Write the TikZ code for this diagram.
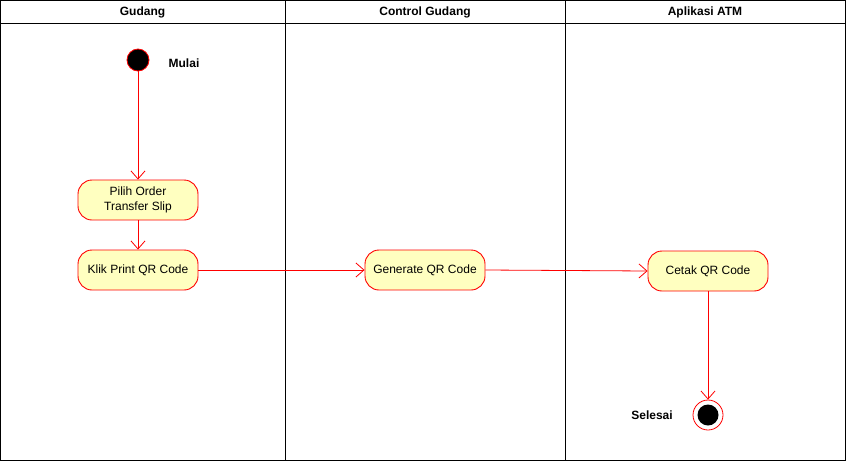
\documentclass[tikz,border=0pt]{standalone}
\usepackage{fontspec}
\setmainfont{Liberation Sans}
\usetikzlibrary{arrows.meta}
\definecolor{actfill}{HTML}{FFFFC0}
\definecolor{actred}{HTML}{FF0000}
\tikzset{
  lane/.style={draw=black, line width=1pt},
  activity/.style={draw=actred, fill=actfill, rounded corners=14pt, minimum width=120pt, minimum height=40pt, align=center, font=\fontsize{12}{14.5}\selectfont, line width=0.9pt, inner sep=0pt},
  flow/.style={draw=actred, line width=0.8pt, -{Straight Barb[length=8pt, width=14pt, line width=0.8pt]}},
  header/.style={font=\bfseries\fontsize{12}{14}\selectfont},
  lbl/.style={font=\bfseries\fontsize{12}{14}\selectfont}
}
\begin{document}
\begin{tikzpicture}[x=1pt, y=-1pt]
\useasboundingbox (0,0) rectangle (846,461);
% swimlanes
\draw[lane] (0.5,0.5) rectangle (845.5,460.5);
\draw[lane] (0.5,23) -- (845.5,23);
\draw[lane] (285,0.5) -- (285,460.5);
\draw[lane] (565,0.5) -- (565,460.5);
\node[header] (h1) at (142.5,12) {Gudang};
\node[header] (h2) at (425,12) {Control Gudang};
\node[header] (h3) at (705,12) {Aplikasi ATM};
% start
\node[circle, draw=actred, fill=black, minimum size=22pt, inner sep=0pt, line width=0.8pt] (start) at (138,60) {};
\node[lbl] (mulai) at (184,63) {Mulai};
% activities
\node[activity] (pilih) at (138,200) {Pilih Order\\Transfer Slip};
\node[activity] (klik) at (138,270) {Klik Print QR Code};
\node[activity] (gen) at (425,270) {Generate QR Code};
\node[activity] (cetak) at (708,271) {Cetak QR Code};
% end
\node[circle, draw=actred, fill=white, minimum size=30pt, inner sep=0pt, line width=0.8pt] (end) at (708,415) {};
\node[circle, fill=black, minimum size=21pt, inner sep=0pt] (endin) at (708,415) {};
\node[lbl] (selesai) at (652,415) {Selesai};
% flows
\draw[flow] (start) -- (pilih);
\draw[flow] (pilih) -- (klik);
\draw[flow] (klik) -- (gen);
\draw[flow] (gen.east) -- (cetak.west);
\draw[flow] (cetak) -- (end);
\end{tikzpicture}
\end{document}
